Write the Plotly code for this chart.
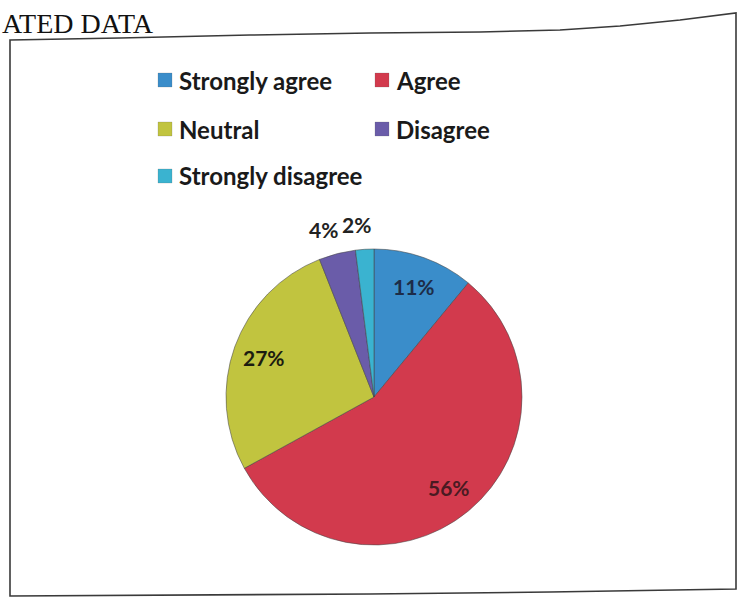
import math
import plotly.graph_objects as go

W, H = 739, 601

def px(x):
    return x / W

def py(y):
    return 1 - y / H

# ---- data ----
categories = ["Strongly agree", "Agree", "Neutral", "Disagree", "Strongly disagree"]
values = [11, 56, 27, 4, 2]
colors = ["#3a8dca", "#d23a4d", "#c1c43f", "#6a5ca9", "#3ab3d0"]
label_colors = ["#1d2c48", "#4a1a22", "#1c1c10", "#222222", "#222222"]
label_inside = [True, True, True, False, False]
subheader_text = "ATED DATA"

fig = go.Figure()

# pie domain (pixels): centre ~ (374, 397), radius ~ 148
cx, cy, r = 374, 397, 148
fig.add_trace(go.Pie(
    labels=categories,
    values=values,
    sort=False,
    direction="clockwise",
    rotation=0,
    marker=dict(colors=colors, line=dict(color="rgba(70,70,70,0.55)", width=1)),
    textposition="none",
    showlegend=False,
    hoverinfo="label+percent",
    domain=dict(x=[px(cx - r), px(cx + r)], y=[py(cy + r), py(cy - r)]),
))

shapes = []
annotations = []

# data labels placed like Excel's best-fit labels (computed from the values)
total = sum(values)
cum = 0
for v, inside, lc in zip(values, label_inside, label_colors):
    mid = (cum + v / 2) / total * 2 * math.pi
    cum += v
    rr = r * (0.79 if inside else 1.17)
    lx = cx + rr * math.sin(mid) - (0 if inside else 7)
    ly = cy - rr * math.cos(mid)
    annotations.append(dict(text="{:.0f}%".format(100 * v / total), xref="paper", yref="paper",
                            x=px(lx), y=py(ly), xanchor="center", yanchor="middle",
                            showarrow=False,
                            font=dict(family="Lato", size=21, color=lc, weight="bold")))

# manual two-column legend
col_x = [158, 375]
row_y = [80, 129, 176]
sq = 14
for i, (name, col) in enumerate(zip(categories, colors)):
    x0 = col_x[i % 2]
    yc = row_y[i // 2]
    shapes.append(dict(type="rect", xref="paper", yref="paper",
                       x0=px(x0), x1=px(x0 + sq), y0=py(yc + sq / 2), y1=py(yc - sq / 2),
                       fillcolor=col, line=dict(color="rgba(90,90,90,0.4)", width=0.5)))
    annotations.append(dict(text=name, xref="paper", yref="paper",
                            x=px(x0 + sq + 5), y=py(yc), xanchor="left", yanchor="middle",
                            showarrow=False,
                            font=dict(family="Lato", size=24, color="#1a1a1a", weight="bold")))

# skewed frame of the scanned chart
frame_pts = [(10, 40), (120, 38), (250, 35), (370, 33), (480, 32), (560, 30), (620, 26),
             (680, 20), (736, 13), (736, 589), (550, 592), (370, 594), (10, 596)]
frame_path = "M " + " L ".join("{} {}".format(px(a), py(b)) for a, b in frame_pts) + " Z"
shapes.append(dict(type="path", xref="paper", yref="paper", path=frame_path,
                   line=dict(color="#3a3a3a", width=1.6)))

# page text above the chart
annotations.append(dict(text=subheader_text, xref="paper", yref="paper",
                        x=px(0), y=py(24), xanchor="left", yanchor="middle", showarrow=False,
                        font=dict(family="Liberation Serif", size=28, color="#111111")))

fig.update_layout(
    width=W, height=H,
    margin=dict(l=0, r=0, t=0, b=0),
    paper_bgcolor="white",
    plot_bgcolor="white",
    shapes=shapes,
    annotations=annotations,
)

fig.write_html("out.html", config={"displayModeBar": False},
               post_script="document.body.style.margin='0px';")
